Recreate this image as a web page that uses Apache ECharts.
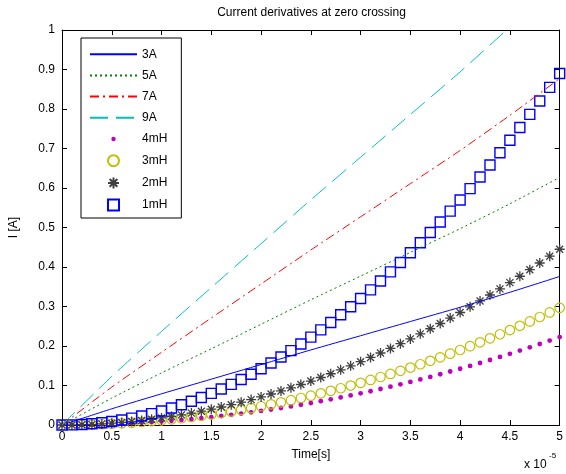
<!DOCTYPE html>
<html><head><meta charset="utf-8">
<script src="https://cdn.jsdelivr.net/npm/echarts@6/dist/echarts.min.js"></script>
<style>html,body{margin:0;padding:0;background:#fff}#c{width:566px;height:474px}</style>
</head><body><div id="c"></div>
<script>
const titleText = 'Current derivatives at zero crossing';
const xAxisName = 'Time[s]';
const yAxisName = 'I [A]';
const xExponent = ['x 10', '-5'];

// time in units of 1e-5 s
const lineTime = [0, 0.5, 1, 1.5, 2, 2.5, 3, 3.5, 4, 4.5, 5];
const i3A = [0, 0.041, 0.079, 0.116, 0.153, 0.190, 0.226, 0.262, 0.298, 0.336, 0.376];
const i5A = [0, 0.068, 0.132, 0.193, 0.255, 0.317, 0.377, 0.437, 0.497, 0.560, 0.627];
const i7A = [0, 0.096, 0.184, 0.271, 0.357, 0.443, 0.527, 0.611, 0.695, 0.784, 0.877];
const i9A = [0, 0.123, 0.237, 0.348, 0.459, 0.570, 0.678, 0.786, 0.894, 1.008, 1.128];

const markerTime = [0,0.1,0.2,0.3,0.4,0.5,0.6,0.7,0.8,0.9,1.0,1.1,1.2,1.3,1.4,1.5,1.6,1.7,1.8,1.9,2.0,2.1,2.2,2.3,2.4,2.5,2.6,2.7,2.8,2.9,3.0,3.1,3.2,3.3,3.4,3.5,3.6,3.7,3.8,3.9,4.0,4.1,4.2,4.3,4.4,4.5,4.6,4.7,4.8,4.9,5.0];
const i4mH = [0,0.0001,0.0004,0.0008,0.0014,0.0022,0.0032,0.0044,0.0057,0.0072,0.0089,0.0108,0.0128,0.0150,0.0175,0.0200,0.0228,0.0257,0.0288,0.0321,0.0356,0.0392,0.0431,0.0471,0.0513,0.0556,0.0602,0.0649,0.0698,0.0749,0.0801,0.0855,0.0911,0.0969,0.1029,0.1090,0.1153,0.1218,0.1285,0.1354,0.1424,0.1496,0.1570,0.1646,0.1723,0.1802,0.1883,0.1966,0.2051,0.2137,0.2225];
const i3mH = [0,0.0001,0.0005,0.0011,0.0019,0.0030,0.0043,0.0058,0.0076,0.0096,0.0119,0.0144,0.0171,0.0201,0.0233,0.0267,0.0304,0.0343,0.0384,0.0428,0.0475,0.0523,0.0574,0.0628,0.0684,0.0742,0.0802,0.0865,0.0930,0.0998,0.1068,0.1140,0.1215,0.1292,0.1372,0.1454,0.1538,0.1625,0.1714,0.1805,0.1899,0.1995,0.2093,0.2194,0.2297,0.2403,0.2511,0.2621,0.2734,0.2849,0.2967];
const i2mH = [0,0.0002,0.0007,0.0016,0.0028,0.0045,0.0064,0.0087,0.0114,0.0144,0.0178,0.0215,0.0256,0.0301,0.0349,0.0400,0.0456,0.0514,0.0577,0.0643,0.0712,0.0785,0.0862,0.0942,0.1025,0.1113,0.1203,0.1298,0.1396,0.1497,0.1602,0.1711,0.1823,0.1938,0.2058,0.2180,0.2307,0.2437,0.2570,0.2707,0.2848,0.2992,0.3140,0.3291,0.3446,0.3605,0.3766,0.3932,0.4101,0.4274,0.4450];
const i1mH = [0,0.0004,0.0014,0.0032,0.0057,0.0089,0.0128,0.0174,0.0228,0.0288,0.0356,0.0431,0.0513,0.0602,0.0698,0.0801,0.0911,0.1029,0.1153,0.1285,0.1424,0.1570,0.1723,0.1883,0.2051,0.2225,0.2407,0.2595,0.2791,0.2994,0.3204,0.3421,0.3645,0.3877,0.4115,0.4361,0.4614,0.4874,0.5141,0.5415,0.5696,0.5984,0.6280,0.6582,0.6892,0.7209,0.7533,0.7864,0.8202,0.8548,0.8900];

const lineNames = ['3A', '5A', '7A', '9A'];
const markerNames = ['4mH', '3mH', '2mH', '1mH'];

const FONT = 'Liberation Sans, Arial, Helvetica, sans-serif';
const pair = (xs, ys) => xs.map((x, k) => [x, ys[k]]);

const lineDefs = [
  {name: lineNames[0], data: i3A, color: '#0000ff', type: 'solid'},
  {name: lineNames[1], data: i5A, color: '#008000', type: [2, 3]},
  {name: lineNames[2], data: i7A, color: '#ff0000', type: [9, 4, 2, 4]},
  {name: lineNames[3], data: i9A, color: '#00bfbf', type: [18, 8]}
];
// invisible symbol (only move-to commands) so the legend shows a bare line
const noMark = 'path://M0 0M1 1';
const dotPath = 'path://M0 0M10 10M5 3A2 2 0 1 1 5 7A2 2 0 1 1 5 3Z';
const starPath = 'path://M5 0L5 10M0 5L10 5M1.5 1.5L8.5 8.5M8.5 1.5L1.5 8.5';
const squarePath = 'path://M0 0L10 0L10 10L0 10Z';
const markerDefs = [
  {name: markerNames[0], data: i4mH, symbol: dotPath, size: 12, fill: '#bf00bf', stroke: '#bf00bf', bw: 0},
  {name: markerNames[1], data: i3mH, symbol: 'circle', size: 9.5, fill: 'rgba(0,0,0,0)', stroke: '#bfbf00', bw: 1.2},
  {name: markerNames[2], data: i2mH, symbol: starPath, size: 10, fill: 'rgba(0,0,0,0)', stroke: '#404040', bw: 1.3},
  {name: markerNames[3], data: i1mH, symbol: squarePath, size: 10, fill: 'rgba(0,0,0,0)', stroke: '#0000ff', bw: 1.4}
];

const series = [];
lineDefs.forEach(d => series.push({
  name: d.name, type: 'line', data: pair(lineTime, d.data), xAxisIndex: 0, yAxisIndex: 0,
  symbol: noMark, showSymbol: false, clip: true, animation: false, smooth: 0.2,
  lineStyle: {color: d.color, width: 1, type: d.type}, itemStyle: {color: d.color, borderWidth: 0}
}));
markerDefs.forEach(d => series.push({
  name: d.name, type: 'scatter', data: pair(markerTime, d.data), xAxisIndex: 0, yAxisIndex: 0,
  symbol: d.symbol, symbolSize: d.size, symbolKeepAspect: true, clip: false, animation: false,
  itemStyle: {color: d.fill, borderColor: d.stroke, borderWidth: d.bw, opacity: 1}
}));

const axisCommon = {
  axisLine: {show: true, onZero: false, lineStyle: {color: '#000', width: 1}},
  axisTick: {show: true, inside: true, length: 5, lineStyle: {color: '#000'}},
  splitLine: {show: false}
};

const chart = echarts.init(document.getElementById('c'), null, {renderer: 'canvas'});
chart.setOption({
  animation: false,
  backgroundColor: '#fff',
  grid: {left: 61, right: 4, top: 30, bottom: 49, containLabel: false},
  xAxis: [
    Object.assign({type: 'value', min: 0, max: 5, interval: 0.5, position: 'bottom',
      name: xAxisName, nameLocation: 'middle', nameGap: 24,
      nameTextStyle: {color: '#000', fontSize: 12, fontFamily: FONT},
      axisLabel: {color: '#000', fontSize: 12, fontFamily: FONT, margin: 6}}, axisCommon),
    Object.assign({type: 'value', min: 0, max: 5, interval: 0.5, position: 'top',
      axisLabel: {show: false}}, axisCommon)
  ],
  yAxis: [
    Object.assign({type: 'value', min: 0, max: 1, interval: 0.1, position: 'left',
      name: yAxisName, nameLocation: 'middle', nameGap: 42, nameRotate: 90,
      nameTextStyle: {color: '#000', fontSize: 12, fontFamily: FONT},
      axisLabel: {color: '#000', fontSize: 12, fontFamily: FONT, margin: 7}}, axisCommon),
    Object.assign({type: 'value', min: 0, max: 1, interval: 0.1, position: 'right',
      axisLabel: {show: false}}, axisCommon)
  ],
  legend: {
    orient: 'vertical', left: 81, top: 38,
    data: lineNames.concat(markerNames),
    itemWidth: 47, itemHeight: 11, itemGap: 9.2,
    padding: [10.2, 14, 6.4, 8],
    symbolKeepAspect: true,
    borderColor: '#000', borderWidth: 1, backgroundColor: '#fff',
    textStyle: {color: '#000', fontSize: 12, fontFamily: FONT},
    selectedMode: false
  },
  graphic: [
    {type: 'text', x: 311.5, y: 7, style: {text: titleText, fill: '#000', font: '12px ' + FONT, textAlign: 'center'}},
    {type: 'text', x: 524, y: 459, style: {text: xExponent[0], fill: '#000', font: '12px ' + FONT}},
    {type: 'text', x: 549, y: 452, style: {text: xExponent[1], fill: '#000', font: '8px ' + FONT}}
  ],
  series: series
});
</script></body></html>
